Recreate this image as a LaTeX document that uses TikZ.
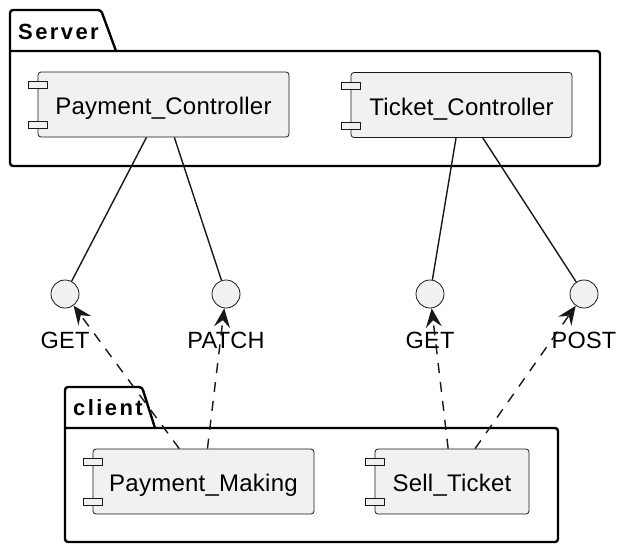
\documentclass[tikz,border=0pt]{standalone}
\usepackage{fontspec}
\setmainfont{Liberation Sans}[LetterSpace=1]
\newfontfamily\pkgfont{Liberation Sans}[LetterSpace=11]
\usetikzlibrary{positioning,arrows.meta}
\definecolor{compfill}{HTML}{F1F1F1}
\definecolor{compline}{HTML}{181818}

\begin{document}
\begin{tikzpicture}[%
	x=1pt, y=-1pt,
	comp/.style={draw=compline, fill=compfill, line width=0.8pt, rounded corners=3pt, minimum height=65pt, text height=25pt, text depth=5pt, font=\fontsize{24}{28}\selectfont},
	port/.style={draw=compline, fill=compfill, line width=0.6pt, minimum width=19pt, minimum height=7pt, inner sep=0pt},
	iface/.style={circle, draw=compline, fill=compfill, line width=0.8pt, minimum size=28pt, inner sep=0pt},
	lbl/.style={inner sep=0pt, font=\fontsize{23.5}{28}\selectfont, node distance=23.5pt},
	pkg/.style={draw=black, line width=2.4pt, rounded corners=3pt},
	pkgtitle/.style={inner sep=0pt, anchor=base west, font=\pkgfont\bfseries\fontsize{22}{26}\selectfont},
	link/.style={draw=compline, line width=1.4pt},
	use/.style={link, dash pattern=on 10pt off 9pt, -{Stealth[length=19pt,width=16pt,inset=7pt]}}
]
\useasboundingbox (0,0) rectangle (629,555);

% packages
\draw[pkg] (116,51) -- (101,10) -- (10,10) -- (10,166) -- (600,166) -- (600,51) -- (10,51);
\node[pkgtitle] (srvtitle) at (18,39.3) {Server};
\draw[pkg] (155,428) -- (142,387) -- (65,387) -- (65,542) -- (558,542) -- (558,428) -- (65,428);
\node[pkgtitle] (clttitle) at (73,415.7) {client};

% components
\node[comp, minimum width=251pt] (pc) at (163.5,104.5) {Payment\_Controller};
\node[comp, minimum width=221pt] (tc) at (461.5,105) {Ticket\_Controller};
\node[comp, minimum width=221pt] (pm) at (203.5,481.5) {Payment\_Making};
\node[comp, minimum width=154pt] (st) at (452,481.5) {Sell\_Ticket};

\foreach \c in {pc,tc,pm,st}{
	\node[port] (\c-up) at ([yshift=-13.5pt]\c.north west) {};
	\node[port] (\c-dn) at ([yshift=12.5pt]\c.south west) {};
}

% interfaces
\node[iface] (get1) at (65,294) {};
\node[iface] (patch) at (226,294) {};
\node[iface] (get2) at (430,294) {};
\node[iface] (post) at (584,294) {};

\node[lbl, below=of get1] (get1-lbl) {GET};
\node[lbl, below=of patch] (patch-lbl) {PATCH};
\node[lbl, below=of get2] (get2-lbl) {GET};
\node[lbl, below=of post] (post-lbl) {POST};

\path[link] (pc) -- (get1);
\path[link] (pc) -- (patch);
\path[link] (tc) -- (get2);
\path[link] (tc) -- (post);

\path[use] (pm) -- (get1);
\path[use] (pm) -- (patch);
\path[use] (st) -- (get2);
\path[use] (st) -- (post);

\end{tikzpicture}
\end{document}
